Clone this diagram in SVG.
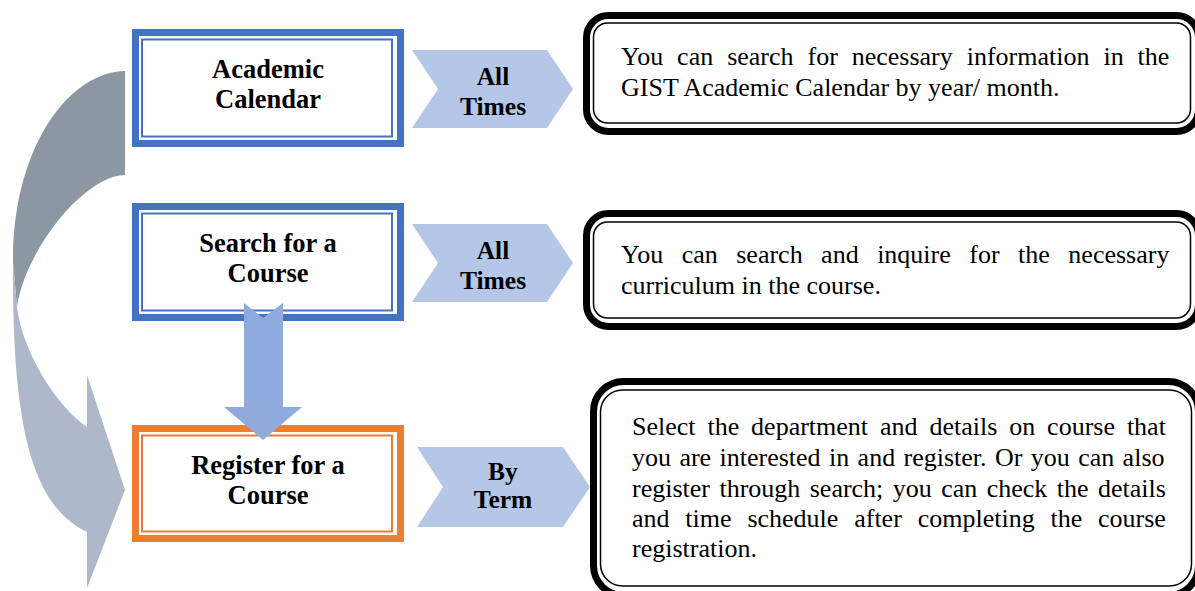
<svg xmlns="http://www.w3.org/2000/svg" width="1195" height="591" viewBox="0 0 1195 591">
<style>
.lbl{font-weight:bold;font-size:26.5px;fill:#000;text-anchor:middle}
.chl{font-weight:bold;font-size:25.5px;fill:#000;text-anchor:middle}
.desc{font-size:26px;fill:#000}
.bthick{fill:#fff;stroke-width:7}
.bthin{fill:none;stroke-width:2}
.blue{stroke:#4472C4}
.orange{stroke:#ED7D31}
.chev{fill:#B4C7E7}
.dthick{fill:#fff;stroke:#000;stroke-width:7}
.dthin{fill:none;stroke:#000;stroke-width:1.5}
</style>
<g font-family="'Liberation Serif', 'Times New Roman', 'DejaVu Serif', serif">
<g id="connectors">
  <path d="M125,71 C70,72 13,145 13,262 L17,307 C25,250 85,175 125,175 Z" fill="#8B98A4"/>
  <path d="M13,262 C12,420 30,505 87,532 L87,588 L125,490 L87,375 L87,427 C55,405 22,350 17,307 Z" fill="#ADB9CA"/>
</g>
<g id="node-academic-calendar">
  <rect class="bthick blue" x="135.5" y="32.5" width="265" height="111"/>
  <rect class="bthin blue" x="142" y="39.5" width="250" height="97"/>
  <text class="lbl" x="268" y="78">Academic</text>
  <text class="lbl" x="268" y="108">Calendar</text>
</g>
<g id="node-search-course">
  <rect class="bthick blue" x="135.5" y="206.5" width="265" height="111"/>
  <rect class="bthin blue" x="142" y="213.5" width="250" height="97"/>
  <text class="lbl" x="268" y="252">Search for a</text>
  <text class="lbl" x="268" y="282">Course</text>
</g>
<g id="node-register-course">
  <rect class="bthick orange" x="135.5" y="428.5" width="265" height="110"/>
  <rect class="bthin orange" x="142" y="435.5" width="250" height="96"/>
  <text class="lbl" x="268" y="474">Register for a</text>
  <text class="lbl" x="268" y="504">Course</text>
</g>
<g id="connector-down">
  <path d="M244,303 L263,318 L283,303 L283,407 L302,407 L263,440 L224,407 L244,407 Z" fill="#8FAADC"/>
</g>
<g id="chevron-1">
  <path class="chev" d="M412,50 L547,50 L573,89 L547,128 L412,128 L438,89 Z"/>
  <text class="chl" x="493" y="85">All</text>
  <text class="chl" x="493" y="115">Times</text>
</g>
<g id="chevron-2">
  <path class="chev" d="M412,224 L547,224 L573,263 L547,302 L412,302 L438,263 Z"/>
  <text class="chl" x="493" y="259">All</text>
  <text class="chl" x="493" y="289">Times</text>
</g>
<g id="chevron-3">
  <path class="chev" d="M417,447 L563,447 L590,487 L563,527 L417,527 L443,487 Z"/>
  <text class="chl" x="503" y="480" font-size="23">By</text>
  <text class="chl" x="503" y="508" font-size="23">Term</text>
</g>
<g id="desc-calendar">
  <rect class="dthick" x="586.5" y="15.5" width="612" height="116" rx="22"/>
  <rect class="dthin" x="593.5" y="23" width="597" height="100" rx="14"/>
  <text class="desc" x="621" y="65" word-spacing="7.44">You can search for necessary information in the</text>
  <text class="desc" x="621" y="96">GIST Academic Calendar by year/ month.</text>
</g>
<g id="desc-search">
  <rect class="dthick" x="586.5" y="213.5" width="612" height="113" rx="22"/>
  <rect class="dthin" x="593.5" y="222" width="597" height="96" rx="14"/>
  <text class="desc" x="621" y="263" word-spacing="11.99">You can search and inquire for the necessary</text>
  <text class="desc" x="621" y="294">curriculum in the course.</text>
</g>
<g id="desc-register">
  <rect class="dthick" x="593.5" y="381.5" width="605" height="214" rx="30"/>
  <rect class="dthin" x="600.5" y="390" width="591" height="196" rx="22"/>
  <text class="desc" x="632" y="435" word-spacing="5.41">Select the department and details on course that</text>
  <text class="desc" x="632" y="466" word-spacing="1.89">you are interested in and register. Or you can also</text>
  <text class="desc" x="632" y="497" word-spacing="2.94">register through search; you can check the details</text>
  <text class="desc" x="632" y="527" word-spacing="9.33">and time schedule after completing the course</text>
  <text class="desc" x="632" y="557">registration.</text>
</g>
</g>
</svg>
